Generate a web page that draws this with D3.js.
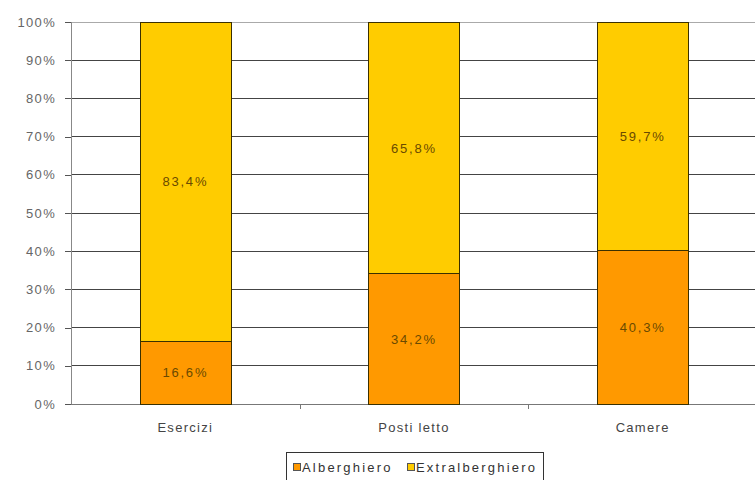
<!DOCTYPE html>
<html>
<head>
<meta charset="utf-8">
<script src="https://cdn.jsdelivr.net/npm/d3@7"></script>
<style>
  html, body { margin: 0; padding: 0; background: #fff; }
  svg { display: block; font-family: "Liberation Sans", Arial, sans-serif; }
</style>
</head>
<body>
<svg id="chart" width="755" height="480"></svg>
<script>
// Share of accommodation by type (percent)
const categories = ["Esercizi", "Posti letto", "Camere"];
const alberghiero = [16.6, 34.2, 40.3];
const extralberghiero = [83.4, 65.8, 59.7];
const seriesNames = ["Alberghiero", "Extralberghiero"];
const yTicks = [0, 10, 20, 30, 40, 50, 60, 70, 80, 90, 100];

const colors = { Alberghiero: "#FF9900", Extralberghiero: "#FFCC00" };

const svg = d3.select("#chart");
const margin = { left: 71, right: 0, top: 22, bottom: 76 };
const W = 755, H = 480;
const plotBottom = H - margin.bottom; // 404

const x = d3.scaleBand()
  .domain(categories)
  .range([margin.left, 757])
  .paddingInner(0.6)
  .paddingOuter(0.3);

const y = d3.scaleLinear().domain([0, 100]).range([plotBottom, margin.top]);

// gridlines
svg.append("g")
  .selectAll("line")
  .data(yTicks.filter(t => t > 0))
  .join("line")
  .attr("x1", margin.left).attr("x2", W)
  .attr("y1", d => y(d)).attr("y2", d => y(d))
  .attr("stroke", d => d === 100 ? "#aaa" : "#444")
  .attr("stroke-width", 1)
  .attr("shape-rendering", "crispEdges");

// y axis
const yAxis = d3.axisLeft(y).tickValues(yTicks).tickFormat(d => d + "%").tickSize(6).tickPadding(9);
const gy = svg.append("g").attr("transform", `translate(${margin.left},0)`).call(yAxis);
gy.select(".domain").attr("stroke", "#888").attr("shape-rendering", "crispEdges");
gy.selectAll(".tick line").attr("stroke", "#555").attr("shape-rendering", "crispEdges");
gy.selectAll("text")
  .attr("fill", "#666")
  .attr("font-size", 13)
  .attr("letter-spacing", "1.3px")
  .attr("font-family", "inherit");

// x axis with ticks between categories
svg.append("line")
  .attr("x1", margin.left).attr("x2", W)
  .attr("y1", plotBottom).attr("y2", plotBottom)
  .attr("stroke", "#777").attr("shape-rendering", "crispEdges");
const step = x.step();
const boundaries = categories.slice(1).map(c => x(c) - step * 0.3);
svg.append("g").selectAll("line")
  .data(boundaries)
  .join("line")
  .attr("x1", d => Math.round(d) + 0.5).attr("x2", d => Math.round(d) + 0.5)
  .attr("y1", plotBottom).attr("y2", plotBottom + 5)
  .attr("stroke", "#777");

svg.append("g").selectAll("text")
  .data(categories)
  .join("text")
  .attr("x", d => x(d) + x.bandwidth() / 2)
  .attr("y", plotBottom + 28)
  .attr("text-anchor", "middle")
  .attr("fill", "#444")
  .attr("font-size", 13)
  .attr("letter-spacing", "1.3px")
  .text(d => d);

// stacked bars
const rows = categories.map((c, i) => ({ cat: c, Alberghiero: alberghiero[i], Extralberghiero: extralberghiero[i] }));
const stacked = d3.stack().keys(seriesNames)(rows);

const layers = svg.append("g").selectAll("g")
  .data(stacked)
  .join("g")
  .attr("fill", d => colors[d.key]);

layers.selectAll("rect")
  .data(d => d)
  .join("rect")
  .attr("x", d => Math.round(x(d.data.cat)) + 0.5)
  .attr("width", Math.round(x.bandwidth()))
  .attr("y", d => Math.round(y(d[1])) + 0.5)
  .attr("height", d => Math.round(y(d[0])) - Math.round(y(d[1])))
  .attr("stroke", "#3a3000")
  .attr("stroke-width", 1);

// value labels
layers.selectAll("text")
  .data(d => d)
  .join("text")
  .attr("x", d => x(d.data.cat) + x.bandwidth() / 2)
  .attr("y", d => (y(d[0]) + y(d[1])) / 2 + 5)
  .attr("text-anchor", "middle")
  .attr("fill", "#6a4a00")
  .attr("font-size", 13)
  .attr("letter-spacing", "1.8px")
  .text(d => (d[1] - d[0]).toFixed(1).replace(".", ",") + "%");

// legend
const lg = svg.append("g").attr("transform", "translate(286,452)");
lg.append("rect")
  .attr("x", 0.5).attr("y", 0.5)
  .attr("width", 257).attr("height", 32)
  .attr("fill", "#fff").attr("stroke", "#333");
const items = [
  { name: "Alberghiero", x: 7 },
  { name: "Extralberghiero", x: 121 }
];
items.forEach(it => {
  lg.append("rect")
    .attr("x", it.x + 0.5).attr("y", 11.5)
    .attr("width", 7).attr("height", 7)
    .attr("fill", colors[it.name]).attr("stroke", "#555");
  lg.append("text")
    .attr("x", it.x + 9).attr("y", 20)
    .attr("fill", "#333").attr("font-size", 13)
    .attr("letter-spacing", "2.2px")
    .text(it.name);
});
</script>
</body>
</html>
